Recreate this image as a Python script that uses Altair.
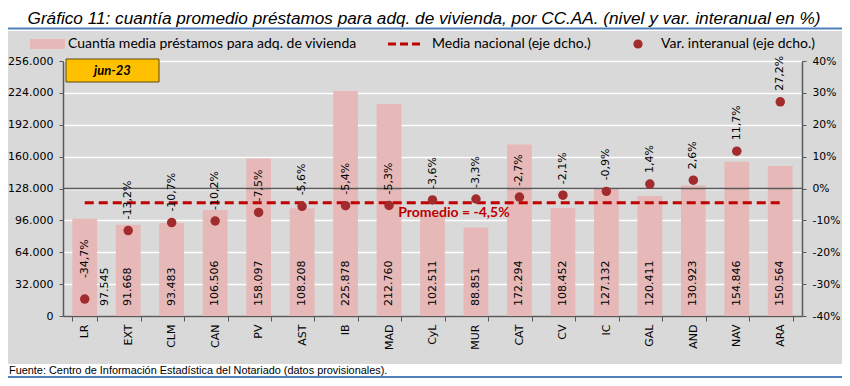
import altair as alt
import pandas as pd

# ---------------- data ----------------
cats = ["LR", "EXT", "CLM", "CAN", "PV", "AST", "IB", "MAD", "CyL", "MUR",
        "CAT", "CV", "IC", "GAL", "AND", "NAV", "ARA"]
amounts = [97545, 91668, 93483, 106506, 158097, 108208, 225878, 212760, 102511,
           88851, 172294, 108452, 127132, 120411, 130923, 154846, 150564]
var_pct = [-34.7, -13.2, -10.7, -10.2, -7.5, -5.6, -5.4, -5.3, -3.6, -3.3,
           -2.7, -2.1, -0.9, 1.4, 2.6, 11.7, 27.2]
media_nacional = -4.5
left_ticks = [0, 32000, 64000, 96000, 128000, 160000, 192000, 224000, 256000]
right_ticks = [-40, -30, -20, -10, 0, 10, 20, 30, 40]
period_label = "jun-23"
title_text = "Gráfico 11: cuantía promedio préstamos para adq. de vivienda, por CC.AA. (nivel y var. interanual en %)"
source_text = "Fuente: Centro de Información Estadística del Notariado (datos provisionales)."
legend_labels = ["Cuantía media préstamos para adq. de vivienda",
                 "Media nacional (eje dcho.)",
                 "Var. interanual (eje dcho.)"]


def es_int(v):
    return f"{v:,}".replace(",", ".")


def es_pct(v):
    return f"{v:.1f}".replace(".", ",") + "%"


df = pd.DataFrame({"cat": cats, "amount": amounts, "pct": var_pct})
df["amount_lbl"] = [es_int(v) for v in amounts]
df["pct_lbl"] = [es_pct(v) for v in var_pct]
one = pd.DataFrame({"k": [0]})

# ---------------- styles ----------------
GRAY = "#D9D9D9"
PINK = "#E6B9B8"
DOT = "#A22B2E"
DASH = "#C00000"
AXIS = "#595959"
BLUE = "#4F81BD"
FONT = "DejaVu Sans"
CAL = "Lato, Liberation Sans"
ARIAL = "Liberation Sans"

W, H = 739, 255

xs = alt.Scale(domain=cats, paddingInner=0.43, paddingOuter=0.215)
yL = alt.Scale(domain=[0, 256000], nice=False, zero=False)
yR = alt.Scale(domain=[-40, 40], nice=False, zero=False)

x_axis = alt.Axis(orient="bottom", labelAngle=-90, labelFont=FONT, labelFontSize=11,
                  labelColor="black", labelPadding=3, tickBand="extent", tickSize=5,
                  tickColor=AXIS, domainColor=AXIS, domainWidth=1.5, grid=False,
                  title=None)
x_enc = alt.X("cat:N", scale=xs, sort=cats, axis=x_axis)

left_axis = alt.Axis(orient="left", values=left_ticks,
                     labelExpr="replace(format(datum.value, ',d'), ',', '.')",
                     labelFont=FONT, labelFontSize=11, labelColor="black",
                     labelPadding=6, tickSize=4, tickColor=AXIS, domainColor=AXIS,
                     domainWidth=1.5, grid=True, gridColor="white", gridWidth=1.5,
                     title=None)
right_axis = alt.Axis(orient="right", values=right_ticks,
                      labelExpr="datum.value + '%'",
                      labelFont=FONT, labelFontSize=10.8, labelColor="black",
                      labelPadding=6, tickSize=4, tickColor=AXIS, domainColor=AXIS,
                      domainWidth=1.5, grid=False, title=None)

base = alt.Chart(df)

# white margins outside the gray panel
white_top = alt.Chart(one).mark_rect(color="white").encode(
    x=alt.value(-60), x2=alt.value(800), y=alt.value(-60), y2=alt.value(-30))
white_bot = alt.Chart(one).mark_rect(color="white").encode(
    x=alt.value(-60), x2=alt.value(800), y=alt.value(303), y2=alt.value(330))
white_right = alt.Chart(one).mark_rect(color="white").encode(
    x=alt.value(W + 41), x2=alt.value(800), y=alt.value(-60), y2=alt.value(330))

title = alt.Chart(one).mark_text(text=title_text, font=ARIAL, fontSize=17.2,
                                 fontStyle="italic", color="black",
                                 align="center", baseline="middle").encode(
    x=alt.value(361), y=alt.value(-42.5))
title_line = alt.Chart(one).mark_rule(color=BLUE, strokeWidth=2).encode(
    x=alt.value(-60), x2=alt.value(800), y=alt.value(-32.5))
source = alt.Chart(one).mark_text(text=source_text, font=ARIAL, fontSize=10.9,
                                  color="black", align="left",
                                  baseline="middle").encode(
    x=alt.value(-54), y=alt.value(310))
source_line = alt.Chart(one).mark_rule(color=BLUE, strokeWidth=2).encode(
    x=alt.value(-60), x2=alt.value(800), y=alt.value(316))

# legend
lg_rect = alt.Chart(one).mark_rect(color=PINK).encode(
    x=alt.value(-33), x2=alt.value(2), y=alt.value(-22), y2=alt.value(-12))
lg_t1 = alt.Chart(one).mark_text(text=legend_labels[0], font=CAL, fontSize=14,
                                 align="left", baseline="middle").encode(
    x=alt.value(5), y=alt.value(-17))
lg_dash = alt.Chart(one).mark_rule(color=DASH, strokeWidth=3,
                                   strokeDash=[8, 4]).encode(
    x=alt.value(325), x2=alt.value(361), y=alt.value(-17))
lg_t2 = alt.Chart(one).mark_text(text=legend_labels[1], font=CAL, fontSize=14,
                                 align="left", baseline="middle").encode(
    x=alt.value(369), y=alt.value(-17))
lg_dot = alt.Chart(one).mark_circle(color=DOT, opacity=1, size=85).encode(
    x=alt.value(575), y=alt.value(-17))
lg_t3 = alt.Chart(one).mark_text(text=legend_labels[2], font=CAL, fontSize=14,
                                 align="left", baseline="middle").encode(
    x=alt.value(598), y=alt.value(-17))

# period box
box = alt.Chart(one).mark_rect(color="#FFC000", stroke="#5A4A10",
                               strokeWidth=1).encode(
    x=alt.value(3), x2=alt.value(96), y=alt.value(-2), y2=alt.value(21))
box_t = alt.Chart(one).mark_text(text=period_label, font=CAL, fontSize=13,
                                 fontWeight="bold", fontStyle="italic",
                                 align="center", baseline="middle").encode(
    x=alt.value(49.5), y=alt.value(10))

# data layers
bars = base.mark_bar(color=PINK).encode(
    x=x_enc, y=alt.Y("amount:Q", scale=yL, axis=left_axis))

zero_line = alt.Chart(one).mark_rule(color=AXIS, strokeWidth=1.5).encode(
    y=alt.YDatum(0, scale=yR, axis=right_axis))

mean_line = base.mark_line(color=DASH, strokeWidth=3, strokeDash=[9, 5]).encode(
    x=x_enc, y=alt.YDatum(media_nacional, scale=yR, axis=None))

mean_lbl = alt.Chart(one).mark_text(
    text="Promedio = " + es_pct(media_nacional), font=CAL, fontSize=14,
    fontWeight="bold", color=DASH, align="center", baseline="middle",
    dx=-22, dy=10).encode(
    x=alt.XDatum("MUR", type="nominal", scale=xs, axis=x_axis),
    y=alt.YDatum(media_nacional, scale=yR, axis=None))

amount_txt = base.transform_filter(alt.datum.cat != "LR").mark_text(
    font=FONT, fontSize=11, angle=270, align="left", baseline="middle",
    dx=10, color="black").encode(
    x=x_enc, y=alt.YDatum(0, scale=yL, axis=None), text="amount_lbl:N")
amount_txt_lr = base.transform_filter(alt.datum.cat == "LR").mark_text(
    font=FONT, fontSize=11, angle=270, align="left", baseline="middle",
    dx=10, dy=20, color="black").encode(
    x=x_enc, y=alt.YDatum(0, scale=yL, axis=None), text="amount_lbl:N")

dots = base.mark_circle(color=DOT, opacity=1, size=90).encode(
    x=x_enc, y=alt.Y("pct:Q", scale=yR, axis=None))

pct_txt = base.transform_filter(alt.datum.cat != "LR").mark_text(
    font=FONT, fontSize=11, angle=270, align="left", baseline="middle",
    dx=11, color="black").encode(
    x=x_enc, y=alt.Y("pct:Q", scale=yR, axis=None), text="pct_lbl:N")
pct_txt_lr = base.transform_filter(alt.datum.cat == "LR").mark_text(
    font=FONT, fontSize=11, angle=270, align="left", baseline="middle",
    dx=21, color="black").encode(
    x=x_enc, y=alt.Y("pct:Q", scale=yR, axis=None), text="pct_lbl:N")

chart = alt.layer(
    white_top, white_bot, white_right, title, title_line, source, source_line,
    lg_rect, lg_t1, lg_dash, lg_t2, lg_dot, lg_t3,
    bars, zero_line, mean_line, mean_lbl, amount_txt, amount_txt_lr,
    dots, pct_txt, pct_txt_lr, box, box_t,
).resolve_scale(y="independent").properties(
    width=W, height=H,
    padding={"left": 55, "top": 53, "right": 834 - 55 - W, "bottom": 62},
    autosize=alt.AutoSizeParams(type="none"),
    background=GRAY,
).configure_view(stroke=None)

chart.save("out.html", embed_options={"renderer": "svg", "actions": False})
